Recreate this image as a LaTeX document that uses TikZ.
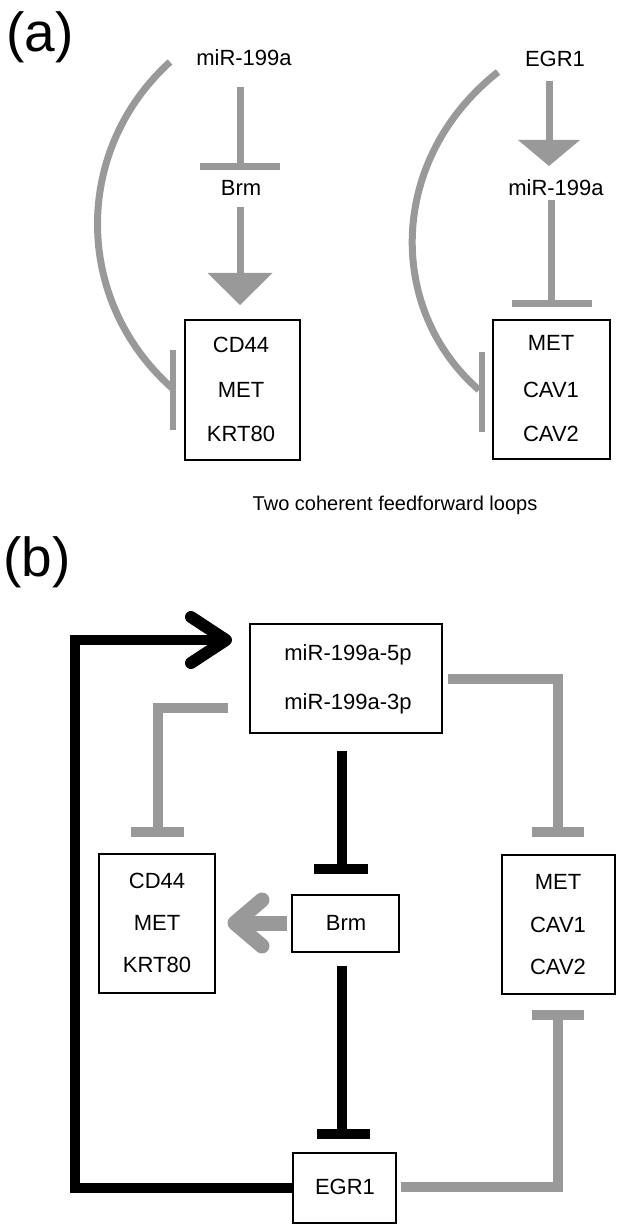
\documentclass[tikz,border=0pt]{standalone}
\usepackage{fontspec}
\setmainfont{Liberation Sans}
\usetikzlibrary{calc}
\definecolor{lg}{RGB}{153,153,153}
\begin{document}
\begin{tikzpicture}[x=1pt,y=-1pt,
  lbl/.style={font=\fontsize{22}{26}\selectfont, text height=15.75pt, text depth=0pt, inner sep=0pt},
  boxst/.style={draw=black, line width=1.5pt, inner sep=0pt, fill=white},
  ga/.style={draw=lg, line width=7pt},
  gb/.style={draw=lg, line width=10pt},
  bk/.style={draw=black, line width=10.5pt},
  chev/.style={line cap=round, line join=round}
]
\useasboundingbox (0,0) rectangle (620,1230);

% ---------- (a) ----------
\node[font=\fontsize{55}{60}\selectfont, inner sep=0pt, anchor=base west] (la) at (6,52) {(a)};

\node[lbl] (mA) at (244,58) {miR-199a};
\node[lbl] (bA) at (241,188) {Brm};
\node[boxst, minimum width=115pt, minimum height=140pt] (boxA) at (242.5,390) {};
\node[lbl] (a1) at (241,345) {CD44};
\node[lbl] (a2) at (241,390) {MET};
\node[lbl] (a3) at (241,434) {KRT80};

\node[lbl] (eB) at (555,59) {EGR1};
\node[lbl] (mB) at (556,188) {miR-199a};
\node[boxst, minimum width=117pt, minimum height=139pt] (boxB) at (551.5,389.5) {};
\node[lbl] (b1) at (551,343) {MET};
\node[lbl] (b2) at (551,390) {CAV1};
\node[lbl] (b3) at (551,434) {CAV2};

\node[font=\fontsize{20}{24}\selectfont, inner sep=0pt] (cap) at (395,505) {Two coherent feedforward loops};

% left loop
\coordinate (a_i1s) at (240,87);
\coordinate (a_i1e) at (240,167);
\draw[ga] (a_i1s) -- (a_i1e);
\draw[ga] ($(a_i1e)+(-40,0)$) -- ($(a_i1e)+(40,0)$);
\coordinate (a_ar1s) at (240,207);
\coordinate (a_ar1t) at (240,305);
\draw[ga] (a_ar1s) -- (240,274);
\fill[lg] (207.5,273) -- (272.5,273) -- (a_ar1t) -- cycle;
\coordinate (a_c1s) at (170,62);
\coordinate (a_c1e) at (172,388);
\draw[ga] (a_c1s) .. controls (73,150) and (73,300) .. (a_c1e);
\draw[draw=lg, line width=6.5pt] (173,350) -- (173,430);

% right loop
\coordinate (b_ar1s) at (549,81);
\coordinate (b_ar1t) at (549,166);
\draw[ga] (b_ar1s) -- (549,141);
\fill[lg] (518,140) -- (580,140) -- (b_ar1t) -- cycle;
\coordinate (b_i1s) at (551,200);
\coordinate (b_i1e) at (551,303);
\draw[ga] (b_i1s) -- (b_i1e);
\draw[ga] (512,303) -- (592,303);
\coordinate (b_c1s) at (498,72);
\coordinate (b_c1e) at (479,390);
\draw[ga] (b_c1s) .. controls (387,160) and (387,310) .. (b_c1e);
\draw[draw=lg, line width=6.5pt] (482,352) -- (482,432);

% ---------- (b) ----------
\node[font=\fontsize{55}{60}\selectfont, inner sep=0pt, anchor=base west] (lb) at (3,576) {(b)};

\node[boxst, minimum width=192pt, minimum height=109pt] (mir) at (346,678.5) {};
\node[lbl] (mir5) at (348,653) {miR-199a-5p};
\node[lbl] (mir3) at (348,702) {miR-199a-3p};

\node[boxst, minimum width=116pt, minimum height=139pt] (cd) at (157,923.5) {};
\node[lbl] (cd1) at (157,881) {CD44};
\node[lbl] (cd2) at (157,923) {MET};
\node[lbl] (cd3) at (157,965) {KRT80};

\node[boxst, minimum width=107pt, minimum height=57pt] (brm) at (345.5,923.5) {};
\node[lbl] (brmt) at (346,923) {Brm};

\node[boxst, minimum width=113pt, minimum height=139pt] (met) at (558.5,924.5) {};
\node[lbl] (met1) at (558,882) {MET};
\node[lbl] (met2) at (558,925) {CAV1};
\node[lbl] (met3) at (558,967) {CAV2};

\node[boxst, minimum width=103pt, minimum height=70pt] (egr) at (344.5,1188) {};
\node[lbl] (egrt) at (345,1187) {EGR1};

% black feedback arrow EGR1 -> miR
\coordinate (fbx) at (75,640);
\coordinate (fbtip) at (226,640);
\draw[bk] (egr.west) -| (fbx) -- (fbtip);
\draw[bk, line width=12pt, chev] ($(fbtip)+(-35,-23)$) -- (fbtip) -- ($(fbtip)+(-35,23)$);

% black inhibitions
\coordinate (k1s) at (342,751);
\coordinate (k1e) at (342,869);
\draw[bk] (k1s) -- (k1e);
\draw[bk] (314,869) -- (368,869);
\coordinate (k2s) at (342,966);
\coordinate (k2e) at (342,1134);
\draw[bk] (k2s) -- (k2e);
\draw[bk] (317,1134) -- (370,1134);

% gray inhibitions
\coordinate (g1s) at (228,708);
\coordinate (g1e) at (158,832);
\draw[gb] (g1s) -| (g1e);
\draw[gb] (131,832) -- (184,832);

\coordinate (g2s) at (448,679);
\coordinate (g2e) at (558,832);
\draw[gb] (g2s) -| (g2e);
\draw[gb] (532,832) -- (584,832);

\coordinate (g3s) at (401,1187);
\coordinate (g3e) at (558,1015);
\draw[gb] (g3s) -| (g3e);
\draw[gb] (532,1015) -- (584,1015);

% gray arrow Brm -> CD44 box
\coordinate (gas) at (287,923);
\coordinate (gat) at (235,923);
\draw[draw=lg, line width=15pt] (gas) -- (241,923);
\draw[draw=lg, line width=15pt, chev] ($(gat)+(27,-23)$) -- (gat) -- ($(gat)+(27,23)$);
\end{tikzpicture}
\end{document}
